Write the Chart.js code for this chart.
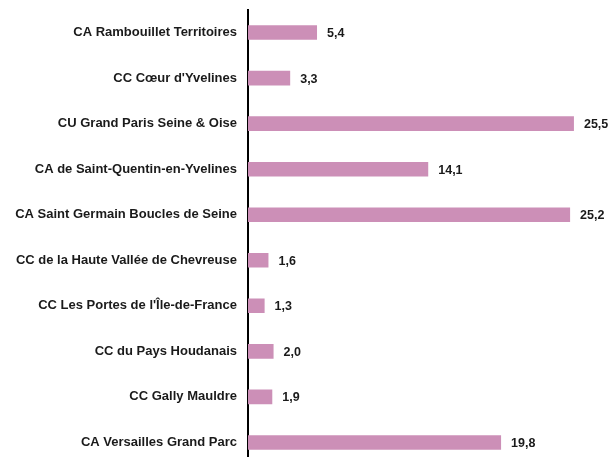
<!DOCTYPE html>
<html>
<head>
<meta charset="utf-8">
<script src="https://cdn.jsdelivr.net/npm/chart.js@4/dist/chart.umd.min.js"></script>
<style>
html,body{margin:0;padding:0;background:#fff;overflow:hidden;}
canvas{display:block;margin-top:-9px;}
</style>
</head>
<body>
<canvas id="c" width="611" height="493" style="width:611px;height:493px;"></canvas>
<script>
const categories = [
  "CA Rambouillet Territoires",
  "CC Cœur d'Yvelines",
  "CU Grand Paris Seine & Oise",
  "CA de Saint-Quentin-en-Yvelines",
  "CA Saint Germain Boucles de Seine",
  "CC de la Haute Vallée de Chevreuse",
  "CC Les Portes de l'Île-de-France",
  "CC du Pays Houdanais",
  "CC Gally Mauldre",
  "CA Versailles Grand Parc"
];
const values = [5.4, 3.3, 25.5, 14.1, 25.2, 1.6, 1.3, 2.0, 1.9, 19.8];
const valueLabels = ["5,4", "3,3", "25,5", "14,1", "25,2", "1,6", "1,3", "2,0", "1,9", "19,8"];

const FONT = "'Liberation Sans', Arial, sans-serif";

const valueLabelPlugin = {
  id: 'valueLabels',
  afterDatasetsDraw(chart) {
    const ctx = chart.ctx;
    const meta = chart.getDatasetMeta(0);
    ctx.save();
    ctx.font = "bold 12.5px " + FONT;
    ctx.fillStyle = '#1a1a1a';
    ctx.textAlign = 'left';
    ctx.textBaseline = 'middle';
    meta.data.forEach((bar, i) => {
      ctx.fillText(valueLabels[i], bar.x + 10, bar.y + 1);
    });
    ctx.restore();
  }
};

new Chart(document.getElementById('c'), {
  type: 'bar',
  data: {
    labels: categories,
    datasets: [{
      data: values,
      backgroundColor: '#cc8fb7',
      borderWidth: 0,
      barPercentage: 0.64,
      categoryPercentage: 0.5
    }]
  },
  options: {
    indexAxis: 'y',
    responsive: false,
    maintainAspectRatio: false,
    animation: false,
    layout: { padding: { top: 0, bottom: 6, left: 0, right: 0 } },
    plugins: { legend: { display: false }, tooltip: { enabled: false } },
    scales: {
      x: {
        display: false,
        min: 0,
        max: 28.4
      },
      y: {
        afterFit(scale) { scale.width = 248; },
        grid: { display: false, drawTicks: false },
        border: { display: true, color: '#000', width: 2 },
        ticks: {
          color: '#1a1a1a',
          padding: 11,
          font: { family: FONT, size: 13, weight: 'bold' }
        }
      }
    }
  },
  plugins: [valueLabelPlugin]
});
</script>
</body>
</html>
